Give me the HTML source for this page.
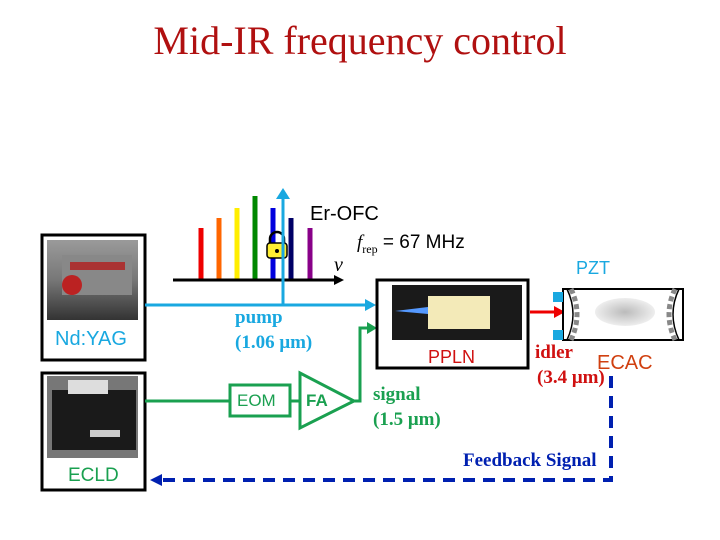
<!DOCTYPE html>
<html><head><meta charset="utf-8"><style>
body{margin:0;width:720px;height:540px;background:#fff;overflow:hidden;position:relative;font-family:"Liberation Sans",sans-serif}
.t{position:absolute;white-space:nowrap;line-height:1}
.s{font-family:"Liberation Serif",serif;font-weight:bold}
</style></head><body>
<svg width="720" height="540" style="position:absolute;left:0;top:0">
<defs>
<radialGradient id="g"><stop offset="0" stop-color="#bbb"/><stop offset="1" stop-color="#eee"/></radialGradient>
<linearGradient id="p1" x1="0" y1="0" x2="0" y2="1"><stop offset="0" stop-color="#9a9a9a"/><stop offset="0.5" stop-color="#777"/><stop offset="1" stop-color="#333"/></linearGradient>
</defs>
<rect x="42" y="235" width="103" height="125" fill="#fff" stroke="#000" stroke-width="3"/>
<rect x="47" y="240" width="91" height="80" fill="url(#p1)"/>
<rect x="62" y="255" width="70" height="40" fill="#888"/>
<rect x="70" y="262" width="55" height="8" fill="#a33"/>
<circle cx="72" cy="285" r="10" fill="#b22"/>
<rect x="42" y="373" width="103" height="117" fill="#fff" stroke="#000" stroke-width="3"/>
<rect x="47" y="376" width="91" height="82" fill="#777"/>
<rect x="52" y="390" width="84" height="60" fill="#1a1a1a"/>
<rect x="68" y="380" width="40" height="14" fill="#ddd"/>
<rect x="90" y="430" width="30" height="7" fill="#ccc"/>
<g stroke-width="5">
<line x1="201" y1="228" x2="201" y2="280" stroke="#e00"/>
<line x1="219" y1="218" x2="219" y2="280" stroke="#f60"/>
<line x1="237" y1="208" x2="237" y2="280" stroke="#fe0"/>
<line x1="255" y1="196" x2="255" y2="280" stroke="#080"/>
<line x1="273" y1="208" x2="273" y2="280" stroke="#00d"/>
<line x1="291" y1="218" x2="291" y2="280" stroke="#006"/>
<line x1="310" y1="228" x2="310" y2="280" stroke="#808"/>
</g>
<line x1="173" y1="280" x2="337" y2="280" stroke="#000" stroke-width="3"/>
<polygon points="344,280 334,275 334,285" fill="#000"/>
<path d="M270,244 v-5 a7,7 0 0 1 14,0 v5" fill="none" stroke="#000" stroke-width="2.5"/>
<rect x="267" y="243" width="20" height="15" rx="3" fill="#fe3" stroke="#000" stroke-width="1.5"/>
<circle cx="277" cy="251" r="2" fill="#000"/>
<line x1="283" y1="305" x2="283" y2="196" stroke="#19a8e0" stroke-width="3"/>
<polygon points="283,188 276,199 290,199" fill="#19a8e0"/>
<line x1="145" y1="305" x2="368" y2="305" stroke="#19a8e0" stroke-width="3"/>
<polygon points="376,305 365,299 365,311" fill="#19a8e0"/>
<g stroke="#1aa050" stroke-width="3" fill="none">
<line x1="145" y1="401" x2="230" y2="401"/>
<rect x="230" y="385" width="60" height="31"/>
<line x1="290" y1="401" x2="300" y2="401"/>
<polygon points="300,373 300,428 354,401"/>
<polyline points="354,401 360,401 360,328 370,328"/>
</g>
<polygon points="377,328 367,322 367,334" fill="#1aa050"/>
<rect x="377" y="280" width="151" height="88" fill="#fff" stroke="#000" stroke-width="3"/>
<rect x="392" y="285" width="130" height="55" fill="#1a1a1a"/>
<rect x="428" y="296" width="62" height="33" fill="#f3eab8"/>
<polygon points="395,311 428,307 428,314" fill="#59f"/>
<line x1="530" y1="312" x2="556" y2="312" stroke="#e00" stroke-width="3"/>
<polygon points="565,312 554,306 554,318" fill="#e00"/>
<rect x="563" y="289" width="120" height="51" fill="#fff" stroke="#000" stroke-width="2"/>
<ellipse cx="625" cy="312" rx="30" ry="14" fill="url(#g)"/>
<rect x="553" y="292" width="10" height="10" fill="#19a8e0"/>
<rect x="553" y="330" width="10" height="10" fill="#19a8e0"/>
<path d="M567,289 q12,25 0,51" fill="none" stroke="#000" stroke-width="1.5"/>
<path d="M571,289 q12,25 0,51" fill="none" stroke="#888" stroke-width="5" stroke-dasharray="5,3"/>
<path d="M679,289 q-12,25 0,51" fill="none" stroke="#000" stroke-width="1.5"/>
<path d="M675,289 q-12,25 0,51" fill="none" stroke="#888" stroke-width="5" stroke-dasharray="5,3"/>
<g stroke="#0020b0" stroke-width="4" stroke-dasharray="12,8" fill="none">
<polyline points="611,376 611,480 160,480"/>
</g>
<polygon points="150,480 162,474 162,486" fill="#0020b0"/>
</svg>
<div class="t" style="left:0;width:720px;text-align:center;top:21px;font-family:'Liberation Serif',serif;font-size:40px;color:#b01010">Mid-IR frequency control</div>
<div class="t" style="left:310px;top:204px;font-size:20px">Er-OFC</div>
<div class="t" style="left:357px;top:233px;font-size:19px"><i style="font-family:'Liberation Serif',serif">f</i><sub style="font-family:'Liberation Serif',serif;font-size:12px">rep</sub> = 67 MHz</div>
<div class="t" style="left:334px;top:255px;font-size:20px;font-family:'Liberation Serif',serif;font-style:italic">ν</div>
<div class="t" style="left:576px;top:259px;font-size:18px;color:#19a8e0">PZT</div>
<div class="t s" style="left:235px;top:308px;font-size:19px;color:#19a8e0">pump</div>
<div class="t s" style="left:235px;top:333px;font-size:19px;color:#19a8e0">(1.06 μm)</div>
<div class="t" style="left:55px;top:329px;font-size:20px;color:#19a8e0">Nd:YAG</div>
<div class="t" style="left:68px;top:466px;font-size:19px;color:#1aa050">ECLD</div>
<div class="t" style="left:237px;top:392px;font-size:17px;color:#1aa050">EOM</div>
<div class="t" style="left:306px;top:392px;font-size:17px;color:#1aa050;font-weight:bold">FA</div>
<div class="t" style="left:428px;top:348px;font-size:18px;color:#d01010">PPLN</div>
<div class="t s" style="left:535px;top:343px;font-size:19px;color:#d01010">idler</div>
<div class="t s" style="left:537px;top:368px;font-size:19px;color:#d01010">(3.4 μm)</div>
<div class="t" style="left:597px;top:353px;font-size:20px;color:#d04010">ECAC</div>
<div class="t s" style="left:373px;top:385px;font-size:19px;color:#1aa050">signal</div>
<div class="t s" style="left:373px;top:410px;font-size:19px;color:#1aa050">(1.5 μm)</div>
<div class="t s" style="left:463px;top:451px;font-size:19px;color:#0020b0">Feedback Signal</div>
</body></html>
